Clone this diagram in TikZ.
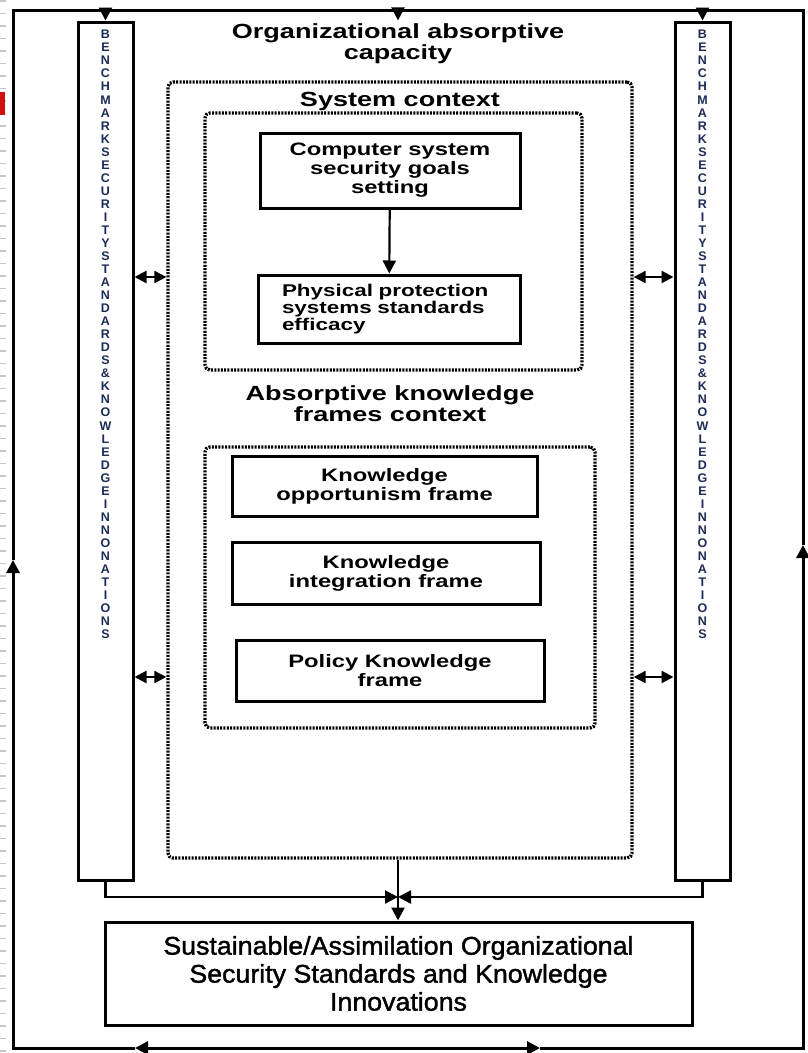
\documentclass[tikz,border=0pt]{standalone}
\usepackage{fontspec}
\setmainfont{Liberation Sans}
\newfontfamily\wide[FakeStretch=1.32]{Liberation Sans}
\newfontfamily\narrow[FakeStretch=1.05,FakeBold=1.5]{Liberation Sans}
\definecolor{ColInk}{HTML}{1C2B57}
\definecolor{EdgeRed}{HTML}{D01010}
\usetikzlibrary{positioning,arrows.meta}
\newcommand{\colletters}{B\\E\\N\\C\\H\\M\\A\\R\\K\\S\\E\\C\\U\\R\\I\\T\\Y\\S\\T\\A\\N\\D\\A\\R\\D\\S\\\&\\K\\N\\O\\W\\L\\E\\D\\G\\E\\I\\N\\N\\O\\N\\A\\T\\I\\O\\N\\S}

\begin{document}
\begin{tikzpicture}[x=1pt, y=-1pt,
    box/.style={rectangle, draw, line width=3pt, fill=white, align=center,
      font={\wide\bfseries\fontsize{18}{19}\selectfont}},
    ctx/.style={rectangle, draw, line width=3.3pt, dash pattern=on 2pt off 1.3pt,
      rounded corners=5pt},
    column/.style={rectangle, draw, line width=3pt, minimum width=55pt, minimum height=858pt},
    heading/.style={align=center, font={\wide\bfseries\fontsize{20.5}{21}\selectfont}},
    flow/.style={-{Triangle[length=13pt,width=13pt]}, line width=2.2pt},
    both/.style={{Triangle[length=12pt,width=12pt]}-{Triangle[length=12pt,width=12pt]}, line width=2.2pt}]
    \useasboundingbox (0,0) rectangle (808,1053);
    % left page edge
    \draw[black!22, line width=6pt, dash pattern=on 1.5pt off 11pt] (3,0) -- (3,1053);
    \fill[EdgeRed] (0,92) rectangle (5,115);
    % frame corners
    \coordinate (tl) at (13,10);
    \coordinate (tr) at (803,10);
    \coordinate (bl) at (13,1048);
    \coordinate (br) at (803,1048);
    \coordinate (fb) at (398,1048);
    \coordinate (ab1) at (135,1048);
    \coordinate (ab2) at (540,1048);
    \coordinate (al) at (13,560);
    \coordinate (ar) at (803,545);
    % side columns
    \node[column] (colL) at (105.5,451) {};
    \node[column] (colR) at (702.5,451) {};
    \node[anchor=north, align=center, text=ColInk, inner sep=0pt,
      font={\bfseries\fontsize{12.5}{13.04}\selectfont}] (txtL) at (105.5,30) {\colletters};
    \node[anchor=north, align=center, text=ColInk, inner sep=0pt,
      font={\bfseries\fontsize{12.5}{13.04}\selectfont}] (txtR) at (702.5,30) {\colletters};
    % contexts
    \node[heading] (title) at (398,44) {Organizational absorptive\\capacity};
    \node[ctx, minimum width=464pt, minimum height=776pt] (outer) at (400,470) {};
    \node[heading] (sysl) at (400,101) {System context};
    \node[ctx, minimum width=377pt, minimum height=257pt] (sys) at (393.5,241.5) {};
    \node[box, minimum width=260pt, minimum height=75pt] (goals) at (390,170.5)
      {Computer system\\security goals\\setting};
    \node[box, minimum width=262pt, minimum height=68pt, text width=214pt, inner xsep=24pt,
      align=left, font={\wide\bfseries\fontsize{17}{17}\selectfont}] (phys) at (389,309)
      {Physical protection\\systems standards\\efficacy};
    \node[heading] (absl) at (390,404) {Absorptive knowledge\\frames context};
    \node[ctx, minimum width=390pt, minimum height=281pt] (frames) at (400,587.5) {};
    \node[box, minimum width=305pt, minimum height=60pt] (opp) at (384.5,486)
      {Knowledge\\opportunism frame};
    \node[box, minimum width=308pt, minimum height=62pt] (integ) at (386,573)
      {Knowledge\\integration frame};
    \node[box, minimum width=308pt, minimum height=61pt] (pol) at (390,670.5)
      {Policy Knowledge\\frame};
    \node[rectangle, draw, line width=3pt, minimum width=587pt, minimum height=103pt,
      align=center, font={\narrow\fontsize{25.5}{28}\selectfont}] (sust) at (398.5,973.5)
      {Sustainable/Assimilation Organizational\\Security Standards and Knowledge\\Innovations};
    \coordinate (mid) at (398,897);
    % connectors
    \draw[flow] (goals) -- (phys);
    \draw[both] (colL.east |- 0,277) -- (outer.west |- 0,277);
    \draw[both] (colL.east |- 0,677) -- (outer.west |- 0,677);
    \draw[both] (outer.east |- 0,277) -- (colR.west |- 0,277);
    \draw[both] (outer.east |- 0,677) -- (colR.west |- 0,677);
    \draw[flow] (colL.south) |- (mid);
    \draw[flow] (colR.south) |- (mid);
    \draw[flow] (outer.south -| mid) -- (sust.north -| mid);
    \draw[flow] (colL.north |- tl) -- (colL.north);
    \draw[flow] (colR.north |- tl) -- (colR.north);
    \draw[flow] (title.north |- tl) -- (title.north);
    % outer loop
    \draw[line width=3pt] (al) -- (tl) -- (tr) -- (ar);
    \draw[flow, line width=3pt] (fb) -- (ab1);
    \draw[flow, line width=3pt] (ab1) -- (bl) -- (al);
    \draw[flow, line width=3pt] (fb) -- (ab2);
    \draw[flow, line width=3pt] (ab2) -- (br) -- (ar);
  \end{tikzpicture}
\end{document}
